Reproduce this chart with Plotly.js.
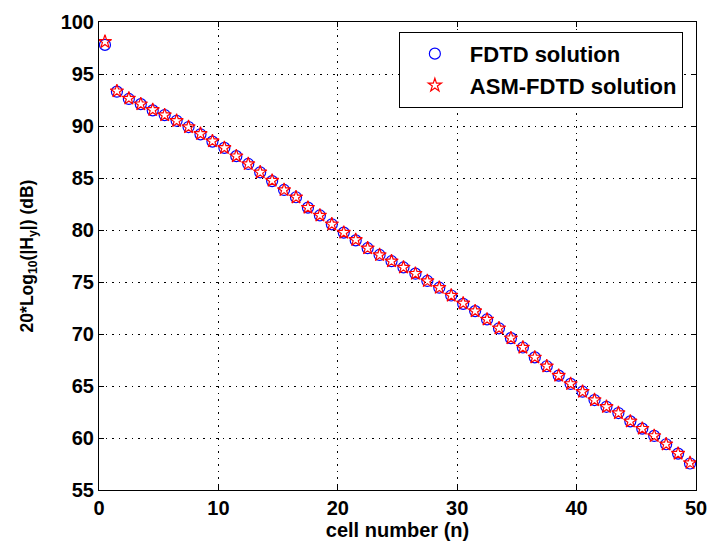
<!DOCTYPE html>
<html><head><meta charset="utf-8">
<script src="https://cdn.plot.ly/plotly-3.0.1.min.js"></script>
<style>html,body{margin:0;padding:0;background:#fff;}#chart{width:707px;height:544px;}</style>
</head><body><div id="chart"></div>
<script>
const cellNumber = [0.5,1.5,2.5,3.5,4.5,5.5,6.5,7.5,8.5,9.5,10.5,11.5,12.5,13.5,14.5,15.5,16.5,17.5,18.5,19.5,20.5,21.5,22.5,23.5,24.5,25.5,26.5,27.5,28.5,29.5,30.5,31.5,32.5,33.5,34.5,35.5,36.5,37.5,38.5,39.5,40.5,41.5,42.5,43.5,44.5,45.5,46.5,47.5,48.5,49.5];
const fdtd = [97.8,93.3,92.6,92.1,91.5,91.05,90.5,89.9,89.2,88.5,87.9,87.1,86.35,85.55,84.7,83.85,83.15,82.15,81.4,80.55,79.75,79.0,78.25,77.6,77.0,76.4,75.8,75.1,74.45,73.7,72.9,72.2,71.4,70.55,69.6,68.7,67.75,66.9,66.0,65.2,64.45,63.65,63.0,62.4,61.6,60.9,60.2,59.4,58.5,57.55];
const asmFdtd = [98.1,93.35,92.65,92.1,91.55,91.05,90.5,89.9,89.25,88.55,87.9,87.1,86.35,85.55,84.75,83.85,83.15,82.15,81.4,80.55,79.75,79.05,78.25,77.6,77.0,76.4,75.8,75.1,74.45,73.7,72.95,72.2,71.4,70.55,69.6,68.7,67.75,66.9,66.0,65.2,64.45,63.65,63.0,62.4,61.6,60.9,60.2,59.4,58.5,57.6];
const xTicks = [0,10,20,30,40,50];
const yTicks = [55,60,65,70,75,80,85,90,95,100];

const fam = 'Liberation Sans, Arial, sans-serif';
const traces = [
  {x:cellNumber, y:fdtd, type:'scatter', mode:'markers', name:'FDTD solution',
   marker:{symbol:'circle-open', size:11, color:'#0000ff', line:{width:1.2, color:'#0000ff'}}},
  {x:cellNumber, y:asmFdtd, type:'scatter', mode:'markers', name:'ASM-FDTD solution',
   marker:{symbol:'star-open', size:10, color:'#ff0000', line:{width:1.2, color:'#ff0000'}}}
];
const axisCommon = {showline:true, linecolor:'#000', linewidth:1, mirror:'allticks', ticks:'inside', ticklen:5, tickcolor:'#000',
  showgrid:true, gridcolor:'#000', gridwidth:1, griddash:'1.5px,5px', zeroline:false, ticklabeloverflow:'allow',
  tickfont:{family:fam,size:20,color:'#000',weight:'bold'}};
const layout = {
  width:707, height:544, paper_bgcolor:'#fff', plot_bgcolor:'#fff',
  margin:{l:99, r:11, t:22, b:54},
  showlegend:true,
  legend:{x:0.978, y:0.979, xanchor:'right', yanchor:'top', bordercolor:'#000', borderwidth:1, bgcolor:'#fff',
    font:{family:fam, size:22, color:'#000', weight:'bold'}, tracegroupgap:0, itemwidth:60},
  xaxis:Object.assign({}, axisCommon, {range:[0,50], tickvals:xTicks, ticktext:xTicks.map(String),
    title:{text:'cell number (n)', font:{family:fam,size:20,color:'#000',weight:'bold'}, standoff:2}}),
  yaxis:Object.assign({}, axisCommon, {range:[55,100], tickvals:yTicks, ticktext:yTicks.map(String),
    title:{text:'20*Log<sub>10</sub>(|H<sub>y</sub>|) (dB)', font:{family:fam,size:17.5,color:'#000',weight:'bold'}, standoff:22}})
};
Plotly.newPlot('chart', traces, layout, {displayModeBar:false, staticPlot:true});
</script></body></html>
